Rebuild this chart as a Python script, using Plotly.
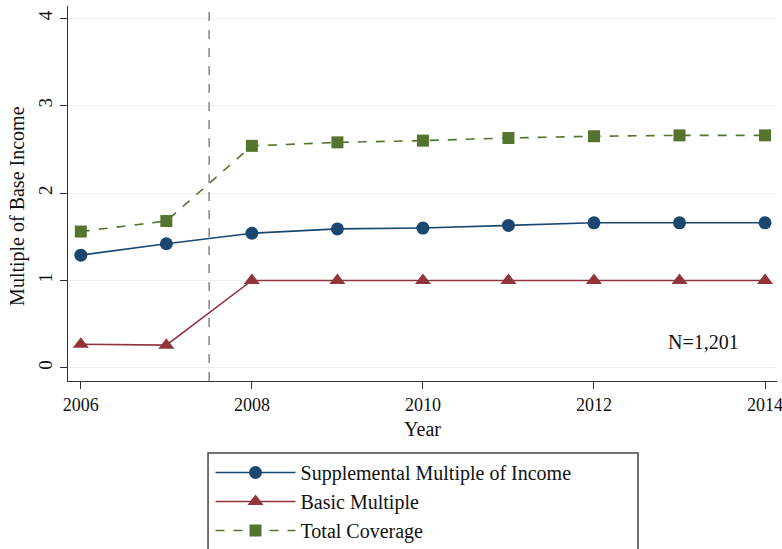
import plotly.graph_objects as go

years = [2006, 2007, 2008, 2009, 2010, 2011, 2012, 2013, 2014]
supplemental = [1.29, 1.42, 1.54, 1.59, 1.60, 1.63, 1.66, 1.66, 1.66]
basic = [0.27, 0.26, 1.00, 1.00, 1.00, 1.00, 1.00, 1.00, 1.00]
total = [1.56, 1.68, 2.54, 2.58, 2.60, 2.63, 2.65, 2.66, 2.66]
policy_break = 2007.5
x_ticks = [2006, 2008, 2010, 2012, 2014]
y_ticks = [0, 1, 2, 3, 4]

navy = "#1a476f"
maroon = "#90353b"
forest = "#55752f"
ink = "#111111"
serif = "Liberation Serif, Times New Roman, serif"

fig = go.Figure()
fig.add_trace(go.Scatter(
    x=years, y=supplemental, mode="lines+markers",
    name="Supplemental Multiple of Income",
    line=dict(color=navy, width=1.6),
    marker=dict(symbol="circle", size=13, color=navy),
))
fig.add_trace(go.Scatter(
    x=years, y=basic, mode="lines+markers",
    name="Basic Multiple",
    line=dict(color=maroon, width=1.6),
    marker=dict(symbol="triangle-up", size=14, color=maroon),
))
fig.add_trace(go.Scatter(
    x=years, y=total, mode="lines+markers",
    name="Total Coverage",
    line=dict(color=forest, width=1.6, dash="dash"),
    marker=dict(symbol="square", size=12, color=forest),
))

fig.add_vline(x=policy_break, line=dict(color="#8c8c8c", width=1.6, dash="dash"))

fig.add_annotation(
    x=2013.28, y=0.3, xref="x", yref="y", text="N=1,201", showarrow=False,
    font=dict(family=serif, size=20, color=ink),
)
# y-axis title
fig.add_annotation(
    x=-0.0705, y=0.467, xref="paper", yref="paper", text="Multiple of Base Income",
    textangle=-90, showarrow=False, xanchor="center", yanchor="middle",
    font=dict(family=serif, size=20, color=ink),
)
# legend frame
fig.add_shape(
    type="rect", xref="paper", yref="paper",
    x0=0.1975, x1=0.804, y0=-0.192, y1=-0.6,
    line=dict(color="#444444", width=1.5), fillcolor="rgba(0,0,0,0)",
)

fig.update_layout(
    width=782, height=549,
    margin=dict(l=68, r=5, t=6, b=168, autoexpand=False),
    paper_bgcolor="white", plot_bgcolor="white",
    font=dict(family=serif, size=18, color=ink),
    showlegend=True,
    legend=dict(
        x=0.201, y=-0.192, xanchor="left", yanchor="top",
        borderwidth=0, bgcolor="rgba(0,0,0,0)",
        font=dict(family=serif, size=20, color=ink),
        itemwidth=80, tracegroupgap=0,
    ),
    xaxis=dict(
        range=[2005.85, 2014.14], tickvals=x_ticks,
        showgrid=False, zeroline=False, automargin=False,
        showline=True, linecolor="#333333", linewidth=1.2,
        ticks="outside", ticklen=7, tickcolor="#333333",
        ticklabeloverflow="allow",
        tickfont=dict(family=serif, size=18, color=ink),
        title=dict(text="Year", standoff=8, font=dict(family=serif, size=20, color=ink)),
    ),
    yaxis=dict(
        range=[-0.15, 4.14], tickvals=y_ticks, tickangle=-90,
        showgrid=True, gridcolor="#e8f1f3", gridwidth=1.2, zeroline=False,
        automargin=False,
        showline=True, linecolor="#333333", linewidth=1.2,
        ticks="outside", ticklen=7, tickcolor="#333333",
        tickfont=dict(family=serif, size=19, color=ink),
    ),
)

fig.write_html("out.html")
